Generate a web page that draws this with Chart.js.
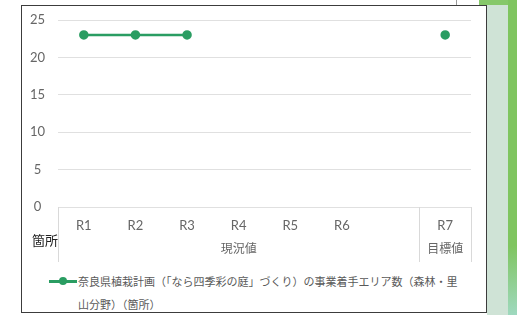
<!DOCTYPE html>
<html lang="ja">
<head>
<meta charset="utf-8">
<script src="https://cdn.jsdelivr.net/npm/chart.js@4"></script>
<style>
  body { margin: 0; background: #fff; width: 517px; height: 315px; overflow: hidden; position: relative; }
  .deco1 { position: absolute; left: 487px; top: 5px; width: 21px; height: 310px; background: #cfe3d6; }
  .deco2 { position: absolute; left: 508px; top: 0; width: 9px; height: 315px;
           background: linear-gradient(172deg, #7fc560 0%, #7fc560 78%, #9fd9c0 100%); }
  .deco3 { position: absolute; left: 479px; top: 0; width: 38px; height: 5px; background: #86c86a; }
  .deco4 { position: absolute; left: 456px; top: 0; width: 1px; height: 5px; background: #9a9a9a; }
  .box { position: absolute; left: 21px; top: 5px; width: 464px; height: 306px; border: 1.5px solid #3c3c3c; background: #fff; }
  #c { position: absolute; left: 22px; top: 6px; }
  .legend { position: absolute; left: 49px; top: 270px; width: 420px; font-family: "Noto Sans CJK JP", sans-serif;
            font-size: 11px; color: #595959; line-height: 23px; }
  .legend .mk { position: absolute; left: 0; top: 10px; width: 28px; height: 2.5px; background: #2a9d62; }
  .legend .mk::after { content: ""; position: absolute; left: 10px; top: -3px; width: 8px; height: 8px; border-radius: 50%; background: #2a9d62; }
  .legend .txt { margin-left: 29px; white-space: nowrap; }
</style>
</head>
<body>
<div class="deco3"></div>
<div class="deco4"></div>
<div class="deco1"></div>
<div class="deco2"></div>
<div class="box"></div>
<canvas id="c" width="464" height="257"></canvas>
<div class="legend"><span class="mk"></span><div class="txt">奈良県植栽計画（「なら四季彩の庭」づくり）の事業着手エリア数（森林・里<br>山分野）（箇所）</div></div>
<script>
var categories = ["R1", "R2", "R3", "R4", "R5", "R6", "", "R7"];
var areaCounts = [23, 23, 23, null, null, null, null, 23];
var yTicks = [0, 5, 10, 15, 20, 25];
var groupNames = ["現況値", "目標値"];
var groupStart = [0, 7];
var groupEnd = [6, 7];
var seriesName = "奈良県植栽計画（「なら四季彩の庭」づくり）の事業着手エリア数（森林・里山分野）（箇所）";
var unitLabel = "箇所";

var groupPlugin = {
  id: 'groups',
  afterDraw: function(chart) {
    var ctx = chart.ctx;
    var x = chart.scales.x;
    var area = chart.chartArea;
    var half = (x.getPixelForValue(1) - x.getPixelForValue(0)) / 2;
    ctx.save();
    ctx.strokeStyle = '#d9d9d9';
    ctx.lineWidth = 1;
    ctx.beginPath();
    var edges = [];
    for (var i = 0; i < groupNames.length; i++) {
      edges.push(Math.round(x.getPixelForValue(groupStart[i]) - half) + 0.5);
      edges.push(Math.round(x.getPixelForValue(groupEnd[i]) + half) + 0.5);
    }
    edges.forEach(function(e) {
      ctx.moveTo(e, area.bottom);
      ctx.lineTo(e, area.bottom + 55);
    });
    ctx.stroke();
    ctx.fillStyle = '#666';
    ctx.font = '12px "Noto Sans CJK JP"';
    ctx.textAlign = 'center';
    ctx.textBaseline = 'middle';
    for (var j = 0; j < groupNames.length; j++) {
      var cx = (x.getPixelForValue(groupStart[j]) + x.getPixelForValue(groupEnd[j])) / 2;
      ctx.fillText(groupNames[j], cx, area.bottom + 41);
    }
    ctx.fillStyle = '#222';
    ctx.font = '13px "Noto Sans CJK JP"';
    ctx.fillText(unitLabel, 23, area.bottom + 33);
    ctx.restore();
  }
};

new Chart(document.getElementById('c').getContext('2d'), {
  type: 'line',
  data: {
    labels: categories,
    datasets: [{
      label: seriesName,
      data: areaCounts,
      borderColor: '#2a9d62',
      backgroundColor: '#2a9d62',
      borderWidth: 2.5,
      pointRadius: 3.5,
      pointHoverRadius: 3.5,
      spanGaps: false
    }]
  },
  options: {
    responsive: false,
    animation: false,
    devicePixelRatio: 1,
    layout: { padding: { top: 14, right: 15, left: 0, bottom: 0 } },
    plugins: { legend: { display: false }, tooltip: { enabled: false } },
    scales: {
      x: {
        offset: true,
        grid: { display: false, drawTicks: false, offset: true },
        border: { display: false },
        ticks: { color: '#666', font: { family: 'Lato', size: 13 }, padding: 11, maxRotation: 0, autoSkip: false },
        afterFit: function(s) { s.height = 56; s.paddingLeft = 0; s.paddingRight = 0; }
      },
      y: {
        min: 0,
        max: 25,
        afterBuildTicks: function(s) { s.ticks = yTicks.map(function(v) { return { value: v }; }); },
        grid: { color: '#e0e0e0', drawTicks: false },
        border: { display: false },
        ticks: { color: '#666', font: { family: 'Lato', size: 13 }, padding: 13, crossAlign: 'center' },
        afterFit: function(s) { s.width = 36; s.paddingTop = 0; s.paddingBottom = 0; }
      }
    }
  },
  plugins: [groupPlugin]
});
</script>
</body>
</html>
